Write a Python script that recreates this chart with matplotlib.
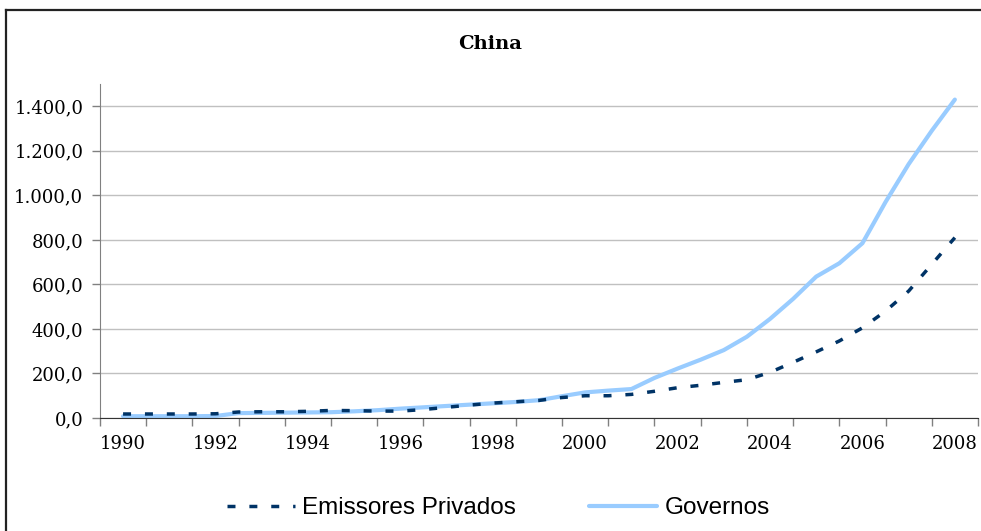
import matplotlib
matplotlib.use("Agg")
import matplotlib.pyplot as plt
from matplotlib.lines import Line2D
from matplotlib.ticker import FixedLocator, FuncFormatter, NullFormatter

# semiannual observations, 1990.5 .. 2008.5
periods = [1990.5 + 0.5 * i for i in range(37)]
privados = [18, 18, 18, 18, 19, 27, 28, 28, 30, 34, 33, 31, 31, 38, 48, 58,
            67, 73, 79, 92, 100, 100, 106, 120, 136, 147, 160, 172, 205, 250,
            297, 346, 405, 480, 570, 690, 810]
governos = [8, 8, 8, 8, 9, 22, 23, 24, 25, 26, 30, 35, 42, 48, 54, 60,
            66, 72, 80, 98, 115, 123, 130, 180, 222, 262, 305, 365, 445, 535,
            635, 695, 785, 970, 1140, 1290, 1430]
year_labels = list(range(1990, 2009, 2))

serif = "DejaVu Serif"

fig = plt.figure(figsize=(9.81, 5.31), dpi=100)
ax = fig.add_axes([0.1019, 0.2128, 0.8950, 0.6290])

ax.plot(periods, privados, color="#003366", lw=2.5, dashes=(2.3, 4.0),
        dash_capstyle="butt", label="Emissores Privados", zorder=3)
ax.plot(periods, governos, color="#99CCFF", lw=3.0, solid_capstyle="round",
        solid_joinstyle="round", label="Governos", zorder=2)

ax.set_xlim(1990, 2009)
ax.set_ylim(0, 1500)

ax.set_yticks(range(0, 1401, 200))
ax.yaxis.set_major_formatter(FuncFormatter(
    lambda v, p: f"{v:,.1f}".replace(",", "X").replace(".", ",").replace("X", ".")))
ax.grid(axis="y", color="#c0c0c0", lw=1.0)
ax.set_axisbelow(True)

# tick marks at year boundaries, labels centred inside the year
ax.xaxis.set_major_locator(FixedLocator(range(1990, 2010)))
ax.xaxis.set_major_formatter(NullFormatter())
ax.xaxis.set_minor_locator(FixedLocator([y + 0.5 for y in year_labels]))
ax.xaxis.set_minor_formatter(FuncFormatter(lambda v, p: str(int(v))))
ax.tick_params(axis="x", which="major", length=6, width=1, color="#808080")
ax.tick_params(axis="x", which="minor", length=0, pad=12)
ax.tick_params(axis="y", length=6, width=1, color="#808080", pad=6)
for lbl in ax.get_xticklabels(minor=True) + ax.get_yticklabels():
    lbl.set_fontfamily(serif)
    lbl.set_fontsize(13)

for s in ("top", "right"):
    ax.spines[s].set_visible(False)
ax.spines["left"].set_color("#808080")
ax.spines["bottom"].set_color("#333333")

fig.text(0.4995, 0.917, "China", ha="center", va="center", fontsize=14,
         fontweight="bold", family=serif)

fig.legend(loc="center", bbox_to_anchor=(0.508, 0.043), ncol=2, frameon=False,
           prop={"family": "Liberation Sans", "size": 17.5},
           handlelength=2.8, handletextpad=0.3, columnspacing=3.0)

# chart frame
fig.add_artist(Line2D([0.0061, 0.0061], [0, 0.981], transform=fig.transFigure,
                      color="#222222", lw=1.6))
fig.add_artist(Line2D([0.0061, 1.02], [0.981, 0.981], transform=fig.transFigure,
                      color="#222222", lw=1.6))

fig.savefig("out.png", dpi=100)
